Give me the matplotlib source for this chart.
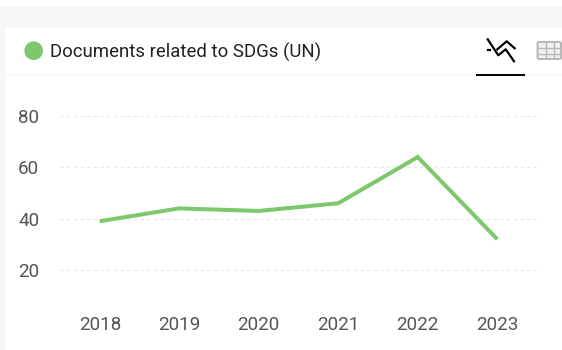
import matplotlib
matplotlib.use('Agg')
import matplotlib.pyplot as plt
from matplotlib.patches import Circle, FancyBboxPatch, Rectangle

years = ['2018', '2019', '2020', '2021', '2022', '2023']
docs = [39, 44, 43, 46, 64, 32]
y_ticks = [20, 40, 60, 80]
legend_label = 'Documents related to SDGs (UN)'

green = '#7dc76d'
W, H = 562, 350

plt.rcParams['font.family'] = ['Roboto', 'DejaVu Sans']

fig = plt.figure(figsize=(W / 100, H / 100), dpi=100, facecolor='white')

# page furniture in pixel coordinates
bg = fig.add_axes([0, 0, 1, 1])
bg.set_xlim(0, W)
bg.set_ylim(H, 0)
bg.axis('off')
bg.add_patch(Rectangle((0, 7), W, 21, color='#f7f7f7', lw=0))
bg.add_patch(Rectangle((0, 7), 6, H - 7, color='#f7f7f7', lw=0))
bg.add_patch(Rectangle((6, 74), W - 6, 2, color='#f6f6f6', lw=0))
bg.add_patch(Rectangle((476, 74), 49, 2, color='black', lw=0))
bg.add_patch(Circle((33.7, 50.7), 9.3, color=green, lw=0))
bg.text(50, 52, legend_label, fontsize=13.4, color='#222222', va='center', ha='left')

# chart icon
bg.plot([487.7, 498.3, 505.7, 514], [39.3, 55.3, 49.3, 61.3], color='black', lw=1.6)
bg.plot([497.3, 506.7, 514.7], [49.3, 41.3, 48.3], color='black', lw=1.6)
bg.plot([487.7, 490], [50, 50], color='black', lw=1.6)

# table icon
bg.add_patch(FancyBboxPatch((537.5, 42), 23.5, 17, boxstyle='round,pad=0,rounding_size=1.5',
                            fc='#f0f0f0', ec='#b8b8b8', lw=1.4))
bg.plot([537.5, 561], [47.5, 47.5], color='#b8b8b8', lw=1)
bg.plot([537.5, 561], [53.5, 53.5], color='#b8b8b8', lw=1)
bg.plot([545.5, 545.5], [42, 59], color='#b8b8b8', lw=1)
bg.plot([553.5, 553.5], [42, 59], color='#b8b8b8', lw=1)

# plot area: y 80 at 116px, y 0 at 321px
ax = fig.add_axes([60 / W, 1 - 321.3 / H, 477 / W, 205.3 / H], facecolor='none')
x = list(range(len(years)))
ax.plot(x, docs, color=green, lw=2.9, solid_joinstyle='miter', solid_capstyle='butt', zorder=3)
ax.set_xlim(-0.5, 5.5)
ax.set_ylim(0, 80)
ax.set_xticks(x, years)
ax.set_yticks(y_ticks)
ax.yaxis.grid(True, color='#e6e6e6', lw=0.8, ls=(0, (3, 3)))
ax.set_axisbelow(True)
ax.tick_params(length=0, labelsize=13.6, labelcolor='#555555')
ax.tick_params(axis='x', pad=-4)
ax.tick_params(axis='y', pad=15)
for spine in ax.spines.values():
    spine.set_visible(False)

fig.savefig('out.png', dpi=100)
